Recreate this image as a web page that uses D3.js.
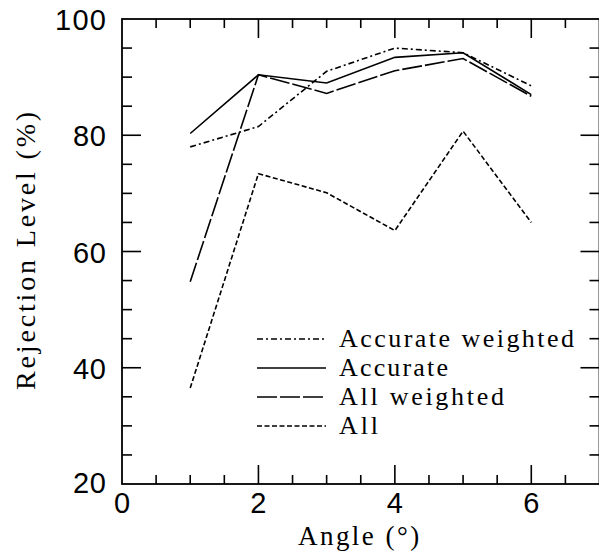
<!DOCTYPE html>
<html>
<head>
<meta charset="utf-8">
<script src="https://cdn.jsdelivr.net/npm/d3@7"></script>
<style>
  body { margin: 0; background: #fff; }
  svg { display: block; }
</style>
</head>
<body>
<div id="viz"></div>
<script>
var width = 599,
    height = 553;

// Data
var angles = [1, 2, 3, 4, 5, 6];
var accurateWeighted = [78.0, 81.5, 91.0, 95.0, 94.2, 88.5];
var accurate = [80.3, 90.4, 89.0, 93.4, 94.2, 87.0];
var allWeighted = [54.8, 90.4, 87.2, 91.1, 93.2, 86.7];
var all = [36.5, 73.4, 70.1, 63.6, 80.7, 65.0];

var seriesNames = ["Accurate weighted", "Accurate", "All weighted", "All"];
var seriesValues = [accurateWeighted, accurate, allWeighted, all];
var dashes = ["6,3,2,3", null, "20,3", "5,2.5"];

var xMajor = [0, 2, 4, 6];
var yMajor = [20, 40, 60, 80, 100];

var x = d3.scaleLinear().domain([0, 7]).range([122, 599.5]);
var y = d3.scaleLinear().domain([20, 100]).range([484, 19]);

var svg = d3.select("#viz").append("svg")
    .attr("width", width)
    .attr("height", height);

var font = "'Liberation Serif', 'DejaVu Serif', serif";
var numFont = "'Liberation Sans', 'DejaVu Sans', sans-serif";

// monospaced look: stretch each label to a fixed width per character
function monoText(sel, perChar) {
    sel.attr("textLength", function(d) { return String(d).length * perChar - 3; })
        .attr("lengthAdjust", "spacing");
}

// frame
svg.append("rect")
    .attr("x", x(0))
    .attr("y", y(100))
    .attr("width", x(7) - x(0))
    .attr("height", y(20) - y(100))
    .attr("fill", "none")
    .attr("stroke", "#000")
    .attr("stroke-width", 1.8);

// ticks: x minor every 0.5, major every 2
var xTicks = d3.range(0.5, 7, 0.5);
var yTicks = d3.range(25, 100, 5);

var ticks = svg.append("g").attr("stroke", "#000").attr("stroke-width", 1.6);

xTicks.forEach(function(t) {
    var len = (t % 2 === 0) ? 19 : 9;
    ticks.append("line")
        .attr("x1", x(t)).attr("x2", x(t))
        .attr("y1", y(20)).attr("y2", y(20) - len);
    ticks.append("line")
        .attr("x1", x(t)).attr("x2", x(t))
        .attr("y1", y(100)).attr("y2", y(100) + len);
});

yTicks.forEach(function(t) {
    var len = (t % 20 === 0) ? 19 : 10;
    ticks.append("line")
        .attr("x1", x(0)).attr("x2", x(0) + len)
        .attr("y1", y(t)).attr("y2", y(t));
    ticks.append("line")
        .attr("x1", x(7)).attr("x2", x(7) - len)
        .attr("y1", y(t)).attr("y2", y(t));
});

// tick labels
svg.append("g").selectAll("text")
    .data(yMajor)
    .enter().append("text")
    .attr("x", function(d) { return x(0) - 14 - String(d).length * 18 + 1; })
    .attr("y", function(d) { return d === 20 ? y(d) - 1 : y(d) + 1; })
    .attr("dy", "0.35em")
    .attr("font-family", numFont)
    .attr("font-size", 29)
    .text(function(d) { return d; })
    .call(monoText, 18);

svg.append("g").selectAll("text")
    .data(xMajor)
    .enter().append("text")
    .attr("x", function(d) { return x(d); })
    .attr("y", 513)
    .attr("text-anchor", "middle")
    .attr("font-family", numFont)
    .attr("font-size", 29)
    .text(function(d) { return d; });

// axis titles
svg.append("text")
    .datum("Angle (°)")
    .attr("x", 298)
    .attr("y", 545)
    .attr("font-family", font)
    .attr("font-size", 27)
    .text(function(d) { return d; })
    .call(monoText, 13.8);

svg.append("text")
    .datum("Rejection Level (%)")
    .attr("transform", "translate(35,390) rotate(-90)")
    .attr("font-family", font)
    .attr("font-size", 28)
    .text(function(d) { return d; })
    .call(monoText, 14.8);

// lines
var line = d3.line()
    .x(function(d, i) { return x(angles[i]); })
    .y(function(d) { return y(d); });

svg.append("g").selectAll("path")
    .data(seriesValues)
    .enter().append("path")
    .attr("d", line)
    .attr("fill", "none")
    .attr("stroke", "#000")
    .attr("stroke-width", 1.6)
    .attr("stroke-dasharray", function(d, i) { return dashes[i]; });

// legend
var legendY = [339, 368, 397, 426];
var legend = svg.append("g").selectAll("g")
    .data(seriesNames)
    .enter().append("g")
    .attr("transform", function(d, i) { return "translate(0," + legendY[i] + ")"; });

legend.append("line")
    .attr("x1", 257).attr("x2", 326)
    .attr("y1", 0).attr("y2", 0)
    .attr("stroke", "#000")
    .attr("stroke-width", 1.6)
    .attr("stroke-dasharray", function(d, i) { return dashes[i]; });

legend.append("text")
    .attr("x", 339)
    .attr("y", 8)
    .attr("font-family", font)
    .attr("font-size", 26)
    .text(function(d) { return d; })
    .call(monoText, 14);
</script>
</body>
</html>
